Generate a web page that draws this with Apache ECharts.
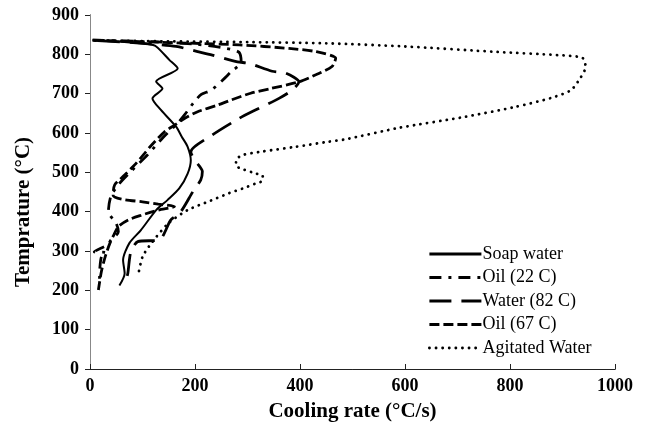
<!DOCTYPE html>
<html>
<head>
<meta charset="utf-8">
<script src="https://cdn.jsdelivr.net/npm/echarts@6/dist/echarts.min.js"></script>
<style>
  html, body { margin: 0; padding: 0; background: #fff; }
  #chart { width: 647px; height: 429px; }
</style>
</head>
<body>
<div id="chart"></div>
<script>
// values: cooling rate (°C/s) against temperature (°C)
const xTicks = [0, 200, 400, 600, 800, 1000]
const yTicks = [0, 100, 200, 300, 400, 500, 600, 700, 800, 900]

const soapRate = [5, 60, 110, 126, 151, 167, 126, 138, 119, 132, 164, 175, 186, 192, 186, 170, 148, 126, 97, 75, 63, 66, 56]
const soapTemp = [836, 832, 826, 820, 786, 764, 731, 713, 688, 663, 616, 590, 565, 531, 497, 459, 430, 404, 353, 320, 277, 243, 212]

const oil22Rate = [5, 100, 200, 260, 284, 288, 269, 253, 231, 212, 199, 180, 167, 140, 110, 80, 55, 40, 35, 50, 54, 40, 33, 8, 30, 22, 19, 18]
const oil22Temp = [836, 833, 826, 815, 805, 780, 756, 735, 709, 698, 680, 646, 625, 590, 545, 505, 470, 440, 400, 370, 349, 328, 315, 298, 296, 286, 260, 225]

const water82Rate = [15, 100, 164, 205, 233, 281, 303, 347, 373, 398, 385, 360, 316, 284, 233, 192, 200, 214, 211, 196, 173, 154, 132, 91, 78, 75, 72, 66]
const water82Temp = [835, 828, 820, 807, 798, 781, 777, 757, 752, 730, 709, 688, 659, 637, 595, 552, 530, 502, 481, 451, 400, 379, 328, 324, 298, 277, 243, 214]

const oil67Rate = [5, 150, 284, 379, 430, 468, 461, 430, 398, 344, 306, 269, 243, 205, 180, 161, 142, 117, 104, 85, 66, 47, 44, 60, 100, 130, 161, 130, 98, 73, 54, 45, 38, 30, 22, 16]
const oil67Temp = [836, 830, 824, 815, 807, 790, 769, 748, 730, 713, 701, 684, 671, 654, 637, 620, 603, 569, 548, 519, 493, 468, 442, 432, 425, 419, 413, 404, 391, 379, 362, 340, 320, 290, 250, 201]

const agitRate = [10, 150, 300, 450, 600, 777, 891, 938, 944, 935, 916, 878, 809, 714, 588, 487, 455, 392, 329, 291, 279, 278, 291, 316, 329, 329, 316, 291, 265, 230, 186, 149, 117, 100, 92]
const agitTemp = [835, 833, 831, 828, 820, 806, 798, 791, 768, 742, 709, 689, 666, 641, 613, 584, 578, 565, 553, 544, 533, 517, 508, 497, 491, 479, 472, 459, 447, 428, 404, 370, 320, 285, 240]

const seriesNames = ['Soap water', 'Oil (22 C)', 'Water (82 C)', 'Oil (67 C)', 'Agitated Water']

const zip = (xs, ys) => xs.map((x, i) => [x, ys[i]])

const font = 'Liberation Serif, Times New Roman, serif'

const makeLine = (name, rate, temp, width, type, cap) => ({
  name: name,
  type: 'line',
  data: zip(rate, temp),
  symbol: 'none',
  showSymbol: false,
  smooth: 0.25,
  lineStyle: { color: '#000', width: width, type: type, cap: cap || 'butt' },
  itemStyle: { color: '#000' },
  emphasis: { disabled: true },
  animation: false
})

const chart = echarts.init(document.getElementById('chart'))

const option = {
  backgroundColor: '#fff',
  animation: false,
  grid: { left: 90, right: 32, top: 15, bottom: 60 },
  legend: {
    data: seriesNames,
    orient: 'vertical',
    left: 423,
    top: 240,
    itemWidth: 52,
    itemHeight: 14,
    itemGap: 5.5,
    textStyle: { fontFamily: font, fontSize: 18, color: '#000', padding: [0, 0, 0, -4] },
    itemStyle: { opacity: 0 },
    lineStyle: { width: 2.8 },
    selectedMode: false
  },
  xAxis: [
    {
      type: 'value',
      min: xTicks[0],
      max: xTicks[xTicks.length - 1],
      interval: 200,
      name: 'Cooling rate (°C/s)',
      nameLocation: 'middle',
      nameGap: 32,
      nameTextStyle: { fontFamily: font, fontSize: 21, fontWeight: 'bold', color: '#000' },
      axisLine: { lineStyle: { color: '#222', width: 1 } },
      axisTick: { inside: true, length: 5, lineStyle: { color: '#222' } },
      axisLabel: { fontFamily: font, fontSize: 18, fontWeight: 'bold', color: '#000', margin: 8, formatter: (v) => String(v) },
      splitLine: { show: false }
    },
    {
      type: 'value',
      position: 'top',
      min: xTicks[0],
      max: xTicks[xTicks.length - 1],
      axisLine: { show: true, lineStyle: { color: '#222', width: 1 } },
      axisTick: { show: false },
      axisLabel: { show: false },
      splitLine: { show: false }
    }
  ],
  yAxis: [
    {
      type: 'value',
      min: yTicks[0],
      max: yTicks[yTicks.length - 1],
      interval: 100,
      name: 'Temprature (°C)',
      nameLocation: 'middle',
      nameGap: 56,
      nameRotate: 90,
      nameTextStyle: { fontFamily: font, fontSize: 21, fontWeight: 'bold', color: '#000', padding: [0, 40, 0, 0] },
      axisLine: { show: true, lineStyle: { color: '#222', width: 1 } },
      axisTick: { show: true, length: 5, lineStyle: { color: '#222' } },
      axisLabel: { fontFamily: font, fontSize: 18, fontWeight: 'bold', color: '#000', margin: 11, formatter: (v) => String(v) },
      splitLine: { show: false }
    },
    {
      type: 'value',
      position: 'right',
      min: yTicks[0],
      max: yTicks[yTicks.length - 1],
      axisLine: { show: true, lineStyle: { color: '#888', width: 1 } },
      axisTick: { show: false },
      axisLabel: { show: false },
      splitLine: { show: false }
    }
  ],
  series: [
    makeLine(seriesNames[0], soapRate, soapTemp, 2, 'solid'),
    makeLine(seriesNames[1], oil22Rate, oil22Temp, 2.8, [12, 7, 3, 7]),
    makeLine(seriesNames[2], water82Rate, water82Temp, 2.8, [22, 10]),
    makeLine(seriesNames[3], oil67Rate, oil67Temp, 2.8, [10, 4]),
    makeLine(seriesNames[4], agitRate, agitTemp, 2.8, [0.1, 6.5], 'round')
  ]
}

chart.setOption(option)

window.addEventListener('resize', () => chart.resize())
</script>
</body>
</html>
